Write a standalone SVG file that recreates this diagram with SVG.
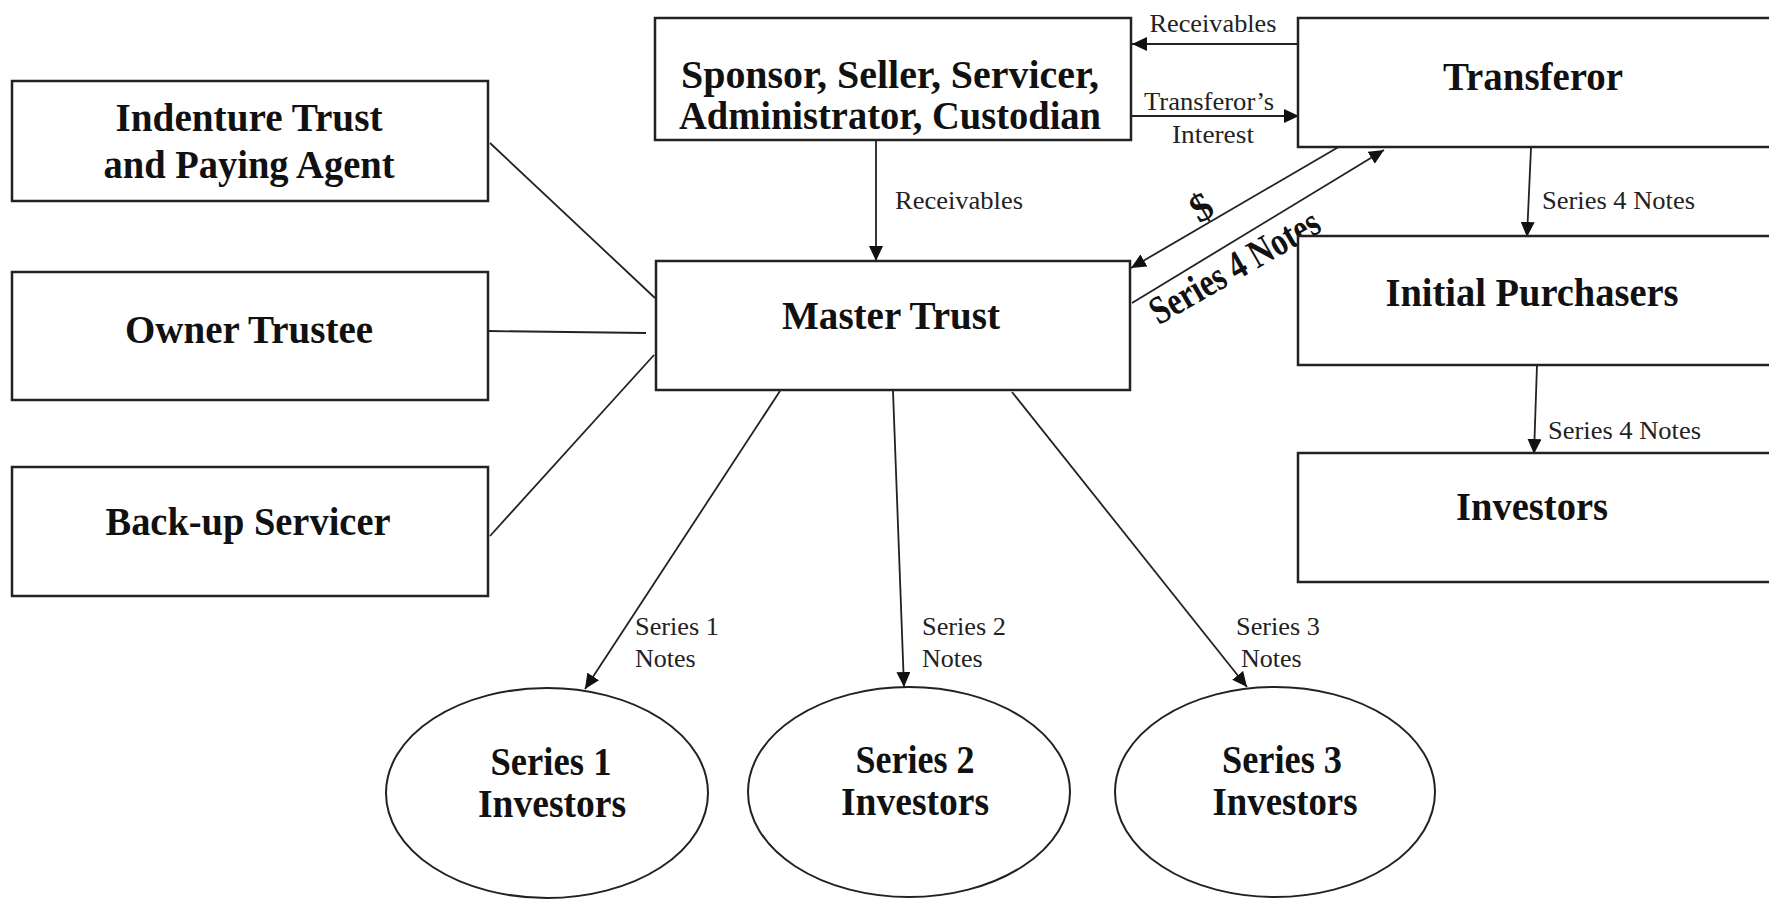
<svg xmlns="http://www.w3.org/2000/svg" width="1769" height="899" viewBox="0 0 1769 899">
<style>
.box{fill:#fff;stroke:#222;stroke-width:2.5}
.ell{fill:#fff;stroke:#222;stroke-width:2}
.t{font-family:"Liberation Serif","Times New Roman",serif;font-weight:bold;font-size:40px;fill:#111;text-anchor:middle}
.l{font-family:"Liberation Serif","Times New Roman",serif;font-size:26px;fill:#222}
.c{stroke:#222;stroke-width:1.8;fill:none}
.a{stroke:#222;stroke-width:1.8;fill:none;marker-end:url(#ah)}
</style>
<defs>
<marker id="ah" markerUnits="userSpaceOnUse" markerWidth="16" markerHeight="14" refX="15" refY="7" orient="auto">
<path d="M0,0 L15,7 L0,14 z" fill="#111"/>
</marker>
</defs>
<rect width="1769" height="899" fill="#fff"/>

<g id="connectors">
<line class="c" x1="490" y1="143" x2="655" y2="298"/>
<line class="c" x1="488" y1="331" x2="646" y2="333"/>
<line class="c" x1="490" y1="536" x2="654" y2="355"/>
<line class="a" x1="876" y1="140" x2="876" y2="261"/>
<line class="a" x1="1298" y1="44" x2="1132" y2="44"/>
<line class="a" x1="1132" y1="116" x2="1299" y2="116"/>
<line class="a" x1="1342" y1="145" x2="1131" y2="268"/>
<line class="a" x1="1132" y1="303" x2="1384" y2="150"/>
<line class="a" x1="1531" y1="148" x2="1527" y2="237"/>
<line class="a" x1="1537" y1="365" x2="1534" y2="454"/>
<line class="a" x1="780" y1="391" x2="585" y2="689"/>
<line class="a" x1="893" y1="391" x2="904" y2="687"/>
<line class="a" x1="1012" y1="392" x2="1247" y2="687"/>
<text class="l" x="1213" y="32" text-anchor="middle" textLength="127" lengthAdjust="spacingAndGlyphs">Receivables</text>
<text class="l" x="1209" y="110" text-anchor="middle" textLength="130" lengthAdjust="spacingAndGlyphs">Transferor’s</text>
<text class="l" x="1213" y="143" text-anchor="middle" textLength="82" lengthAdjust="spacingAndGlyphs">Interest</text>
<text class="l" x="895" y="209" textLength="128" lengthAdjust="spacingAndGlyphs">Receivables</text>
<text class="t" x="1203" y="220" font-size="30" transform="rotate(-30 1203 210)">$</text>
<text class="t" x="1241" y="278" font-size="31" textLength="190" lengthAdjust="spacingAndGlyphs" transform="rotate(-30 1241 278)">Series 4 Notes</text>
<text class="l" x="1542" y="209" textLength="153" lengthAdjust="spacingAndGlyphs">Series 4 Notes</text>
<text class="l" x="1548" y="439" textLength="153" lengthAdjust="spacingAndGlyphs">Series 4 Notes</text>
<text class="l" x="635" y="635" textLength="84" lengthAdjust="spacingAndGlyphs">Series 1</text>
<text class="l" x="635" y="667">Notes</text>
<text class="l" x="922" y="635" textLength="84" lengthAdjust="spacingAndGlyphs">Series 2</text>
<text class="l" x="922" y="667">Notes</text>
<text class="l" x="1236" y="635" textLength="84" lengthAdjust="spacingAndGlyphs">Series 3</text>
<text class="l" x="1241" y="667">Notes</text>
</g>

<g id="indenture">
<rect class="box" x="12" y="81" width="476" height="120"/>
<text class="t" x="249" y="131" textLength="267" lengthAdjust="spacingAndGlyphs">Indenture Trust</text>
<text class="t" x="249" y="178" textLength="291" lengthAdjust="spacingAndGlyphs">and Paying Agent</text>
</g>
<g id="owner-trustee">
<rect class="box" x="12" y="272" width="476" height="128"/>
<text class="t" x="249" y="343" textLength="248" lengthAdjust="spacingAndGlyphs">Owner Trustee</text>
</g>
<g id="backup-servicer">
<rect class="box" x="12" y="467" width="476" height="129"/>
<text class="t" x="248" y="535" textLength="285" lengthAdjust="spacingAndGlyphs">Back-up Servicer</text>
</g>
<g id="sponsor">
<rect class="box" x="655" y="18" width="476" height="122"/>
<text class="t" font-size="37" x="890" y="88" textLength="418" lengthAdjust="spacingAndGlyphs">Sponsor, Seller, Servicer,</text>
<text class="t" font-size="37" x="890" y="129" textLength="422" lengthAdjust="spacingAndGlyphs">Administrator, Custodian</text>
</g>
<g id="master-trust">
<rect class="box" x="656" y="261" width="474" height="129"/>
<text class="t" x="891" y="329" textLength="218" lengthAdjust="spacingAndGlyphs">Master Trust</text>
</g>
<g id="transferor">
<rect class="box" x="1298" y="18" width="480" height="129"/>
<text class="t" x="1533" y="90" textLength="180" lengthAdjust="spacingAndGlyphs">Transferor</text>
</g>
<g id="initial-purchasers">
<rect class="box" x="1298" y="236" width="480" height="129"/>
<text class="t" x="1532" y="306" textLength="293" lengthAdjust="spacingAndGlyphs">Initial Purchasers</text>
</g>
<g id="investors">
<rect class="box" x="1298" y="453" width="480" height="129"/>
<text class="t" x="1532" y="520" textLength="152" lengthAdjust="spacingAndGlyphs">Investors</text>
</g>
<g id="series1-investors">
<ellipse class="ell" cx="547" cy="793" rx="161" ry="105"/>
<text class="t" x="551" y="775" font-size="37" textLength="121" lengthAdjust="spacingAndGlyphs">Series 1</text>
<text class="t" x="552" y="817" font-size="37" textLength="148" lengthAdjust="spacingAndGlyphs">Investors</text>
</g>
<g id="series2-investors">
<ellipse class="ell" cx="909" cy="792" rx="161" ry="105"/>
<text class="t" x="915" y="773" font-size="37" textLength="119" lengthAdjust="spacingAndGlyphs">Series 2</text>
<text class="t" x="915" y="815" font-size="37" textLength="148" lengthAdjust="spacingAndGlyphs">Investors</text>
</g>
<g id="series3-investors">
<ellipse class="ell" cx="1275" cy="792" rx="160" ry="105"/>
<text class="t" x="1282" y="773" font-size="37" textLength="120" lengthAdjust="spacingAndGlyphs">Series 3</text>
<text class="t" x="1285" y="815" font-size="37" textLength="145" lengthAdjust="spacingAndGlyphs">Investors</text>
</g>
</svg>
